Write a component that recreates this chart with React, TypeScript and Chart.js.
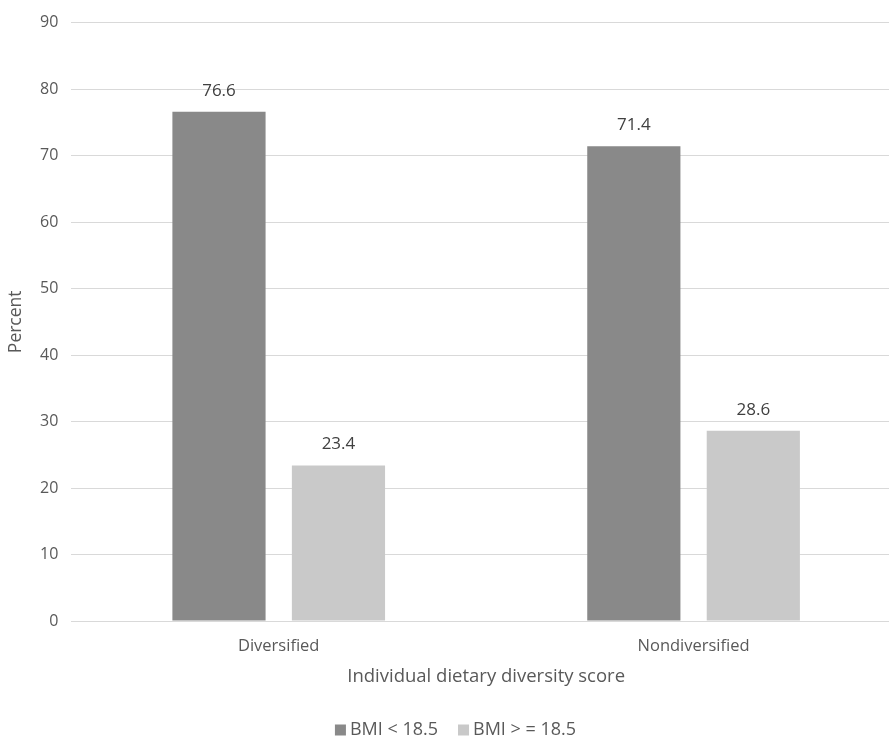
import React, { useEffect, useRef } from "react";
import { Chart, registerables } from "chart.js";

Chart.register(...registerables);

const categories = ["Diversified", "Nondiversified"];
const seriesNames = ["BMI < 18.5", "BMI > = 18.5"];
const lowBmi = [76.6, 71.4];
const highBmi = [23.4, 28.6];
const yTicks = [0, 10, 20, 30, 40, 50, 60, 70, 80, 90];
const seriesColors = ["#898989", "#c9c9c9"];

const FONT = "'Open Sans', 'Liberation Sans', sans-serif";
const TEXT = "#595959";

const valueLabels = {
  id: "valueLabels",
  afterDatasetsDraw(chart: any) {
    const ctx = chart.ctx;
    ctx.save();
    ctx.fillStyle = "#404040";
    ctx.font = `17px ${FONT}`;
    ctx.textAlign = "center";
    ctx.textBaseline = "middle";
    chart.data.datasets.forEach((ds: any, i: number) => {
      const meta = chart.getDatasetMeta(i);
      meta.data.forEach((bar: any, j: number) => {
        ctx.fillText(ds.data[j].toFixed(1), bar.x, bar.y - 21);
      });
    });
    ctx.restore();
  },
};

const bottomLegend = {
  id: "bottomLegend",
  afterDraw(chart: any) {
    const ctx = chart.ctx;
    const box = 11;
    const gap = 4;
    const itemGap = 20;
    ctx.save();
    ctx.font = `18px ${FONT}`;
    ctx.textBaseline = "middle";
    const items = chart.data.datasets.map((ds: any) => ({
      label: ds.label,
      color: ds.backgroundColor,
      w: ctx.measureText(ds.label).width,
    }));
    const total = items.reduce((s: number, it: any) => s + box + gap + it.w, 0) + itemGap * (items.length - 1);
    let x = chart.width / 2 + 5 - total / 2;
    const y = chart.height - 8;
    items.forEach((it: any) => {
      ctx.fillStyle = it.color;
      ctx.fillRect(x, y - box / 2, box, box);
      x += box + gap;
      ctx.fillStyle = TEXT;
      ctx.textAlign = "left";
      ctx.fillText(it.label, x, y);
      x += it.w + itemGap;
    });
    ctx.restore();
  },
};

export default function App() {
  const ref = useRef<HTMLCanvasElement>(null);
  useEffect(() => {
    document.body.style.margin = "0";
    const chart = new Chart(ref.current!, {
      type: "bar",
      data: {
        labels: categories,
        datasets: [
          { label: seriesNames[0], data: lowBmi, backgroundColor: seriesColors[0], categoryPercentage: 0.576, barPercentage: 0.78 },
          { label: seriesNames[1], data: highBmi, backgroundColor: seriesColors[1], categoryPercentage: 0.576, barPercentage: 0.78 },
        ],
      },
      options: {
        animation: false,
        responsive: false,
        layout: { padding: { left: 2, right: 0, top: 12, bottom: 50 } },
        plugins: {
          legend: { display: false },
          tooltip: { enabled: false },
        },
        scales: {
          x: {
            grid: { display: false },
            border: { color: "#d9d9d9" },
            ticks: { color: TEXT, font: { family: FONT, size: 16.5 }, padding: 7 },
            title: { display: true, text: "Individual dietary diversity score", color: TEXT, font: { family: FONT, size: 18.5 }, padding: { top: 3, bottom: 0 } },
          },
          y: {
            min: 0,
            max: 90,
            afterBuildTicks: (axis: any) => {
              axis.ticks = yTicks.map((v) => ({ value: v }));
            },
            grid: { color: "#d9d9d9", drawTicks: false },
            border: { display: false },
            ticks: { color: TEXT, font: { family: FONT, size: 16 }, padding: 13 },
            title: { display: true, text: "Percent", color: TEXT, font: { family: FONT, size: 17.5 }, padding: { bottom: 0 } },
          },
        },
      },
      plugins: [valueLabels, bottomLegend],
    });
    return () => chart.destroy();
  }, []);
  return (
    <div style={{ width: 889, height: 738, background: "#fff", overflow: "hidden" }}>
      <canvas ref={ref} width={901} height={738} style={{ display: "block" }} />
    </div>
  );
}
